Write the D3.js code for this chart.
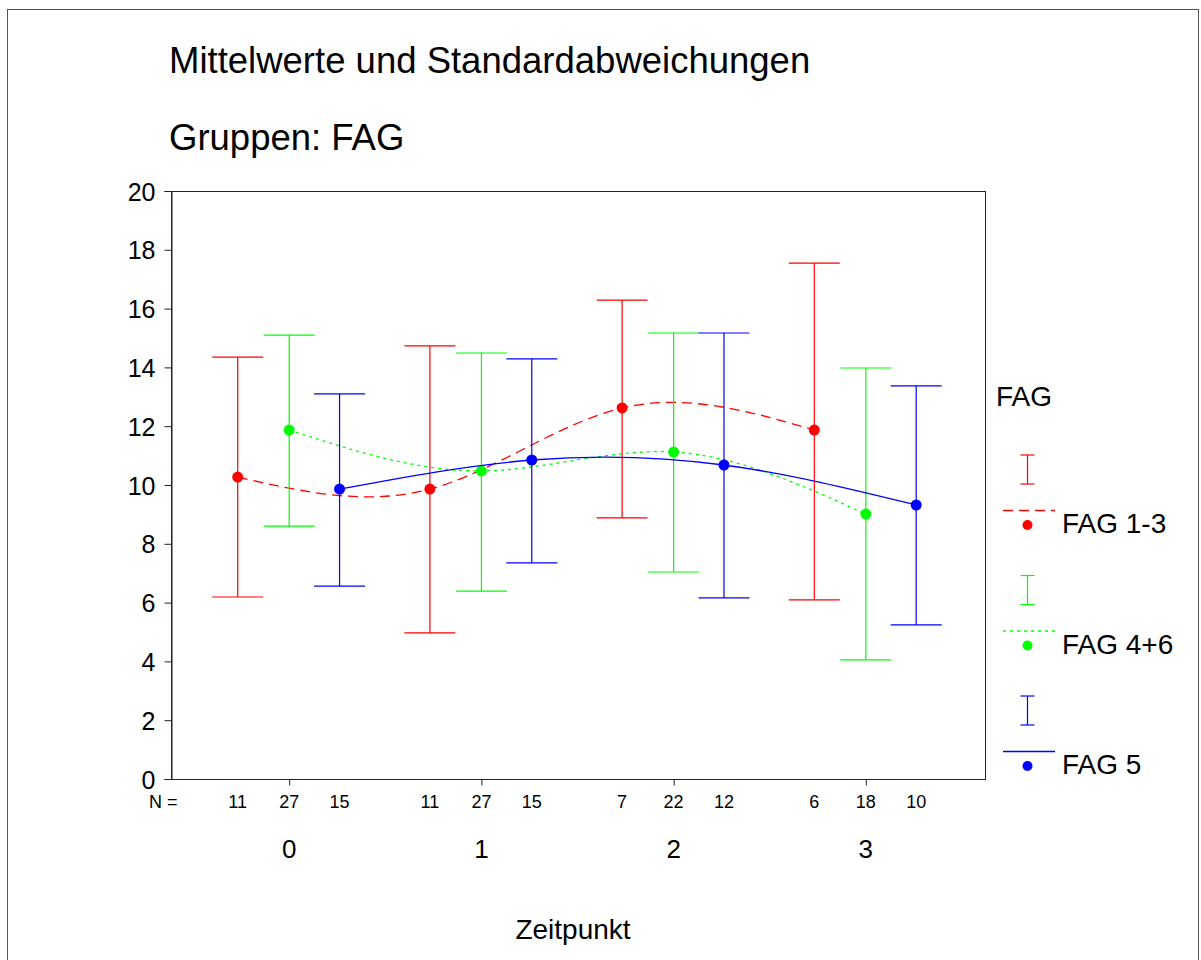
<!DOCTYPE html>
<html>
<head>
<meta charset="utf-8">
<script src="https://cdn.jsdelivr.net/npm/d3@7"></script>
<style>
  body { margin: 0; background: #fff; }
  svg text { font-family: "Liberation Sans", Arial, sans-serif; fill: #000; }
</style>
</head>
<body>
<div id="chart"></div>
<script>
// Zeitpunkte und Gruppen
const zeitpunkte = [0, 1, 2, 3];
const gruppen = ["FAG 1-3", "FAG 4+6", "FAG 5"];

// Mittelwerte je Gruppe (Zeitpunkt 0..3)
const mittelFAG13 = [10.27, 9.86, 12.62, 11.87];
const mittelFAG46 = [11.87, 10.48, 11.12, 9.01];
const mittelFAG5  = [9.86, 10.85, 10.68, 9.32];

// obere / untere Grenze (Mittelwert +/- SD)
const obenFAG13 = [14.35, 14.73, 16.29, 17.55];
const untenFAG13 = [6.19, 4.97, 8.88, 6.09];
const obenFAG46 = [15.10, 14.49, 15.17, 13.98];
const untenFAG46 = [8.60, 6.39, 7.04, 4.05];
const obenFAG5 = [13.10, 14.29, 15.17, 13.37];
const untenFAG5 = [6.56, 7.35, 6.16, 5.24];

// Fallzahlen
const nFAG13 = [11, 11, 7, 6];
const nFAG46 = [27, 27, 22, 18];
const nFAG5  = [15, 15, 12, 10];

const yTicks = [0, 2, 4, 6, 8, 10, 12, 14, 16, 18, 20];

const farben = ["#ff0000", "#00ff00", "#0000ff"];
const striche = ["10,6", "3,4", null];
const versatz = [-0.268, 0, 0.262];

const serien = [
  {name: gruppen[0], mittel: mittelFAG13, oben: obenFAG13, unten: untenFAG13, n: nFAG13},
  {name: gruppen[1], mittel: mittelFAG46, oben: obenFAG46, unten: untenFAG46, n: nFAG46},
  {name: gruppen[2], mittel: mittelFAG5,  oben: obenFAG5,  unten: untenFAG5,  n: nFAG5}
];

function drawChart() {
  var W = 1201, H = 960;
  var left = 171, right = 985, top = 191, bottom = 779;

  var svg = d3.select("#chart").append("svg")
    .attr("width", W).attr("height", H);

  // Rahmen
  svg.append("rect")
    .attr("x", 7.5).attr("y", 9.5)
    .attr("width", 1191).attr("height", 1000)
    .attr("fill", "none").attr("stroke", "#555").attr("stroke-width", 1);

  // Titel
  svg.append("text").attr("x", 169).attr("y", 73)
    .style("font-size", "36.5px").text("Mittelwerte und Standardabweichungen");
  svg.append("text").attr("x", 169).attr("y", 150)
    .style("font-size", "36.5px").text("Gruppen: FAG");

  var x = d3.scaleLinear().domain([-0.615, 3.62]).range([left, right]);
  var y = d3.scaleLinear().domain([0, 20]).range([bottom, top]);

  // Plotrahmen
  svg.append("rect")
    .attr("x", left + 0.5).attr("y", top + 0.5)
    .attr("width", right - left).attr("height", bottom - top)
    .attr("fill", "none").attr("stroke", "#222").attr("stroke-width", 1);

  // y-Achse
  var yAxis = d3.axisLeft(y).tickValues(yTicks).tickSize(7).tickPadding(9);
  var gY = svg.append("g").attr("transform", "translate(" + (left + 0.5) + ",0)").call(yAxis);
  gY.select(".domain").attr("stroke", "#222");
  gY.selectAll(".tick line").attr("stroke", "#222");
  gY.selectAll(".tick text")
    .style("font-size", "25px").attr("dy", "0.36em")
    .attr("font-family", null);

  // x-Achse: Ticks an den Zeitpunkten
  var xAxis = d3.axisBottom(x).tickValues(zeitpunkte).tickSize(6).tickFormat("");
  var gX = svg.append("g").attr("transform", "translate(0," + (bottom + 0.5) + ")").call(xAxis);
  gX.select(".domain").remove();
  gX.selectAll(".tick line").attr("stroke", "#222");

  // N = Zeile
  svg.append("text").attr("x", 149).attr("y", 808)
    .style("font-size", "18px").text("N =");
  serien.forEach(function(s, gi) {
    svg.append("g").selectAll("text")
      .data(s.n).enter().append("text")
      .attr("x", function(d, i) { return x(zeitpunkte[i] + versatz[gi]); })
      .attr("y", 808)
      .attr("text-anchor", "middle")
      .style("font-size", "18px")
      .text(function(d) { return d; });
  });

  // Zeitpunkt-Beschriftung
  svg.append("g").selectAll("text")
    .data(zeitpunkte).enter().append("text")
    .attr("x", function(d) { return x(d); })
    .attr("y", 858)
    .attr("text-anchor", "middle")
    .style("font-size", "26px")
    .text(function(d) { return d; });

  svg.append("text").attr("x", 573).attr("y", 939)
    .attr("text-anchor", "middle")
    .style("font-size", "28px").text("Zeitpunkt");

  var capHalb = 25.5;

  serien.forEach(function(s, gi) {
    var g = svg.append("g");
    var col = farben[gi];
    var pts = s.mittel.map(function(m, i) { return [x(zeitpunkte[i] + versatz[gi]), y(m)]; });

    // Fehlerbalken
    s.mittel.forEach(function(m, i) {
      var cx = x(zeitpunkte[i] + versatz[gi]);
      g.append("line")
        .attr("x1", cx).attr("x2", cx)
        .attr("y1", y(s.oben[i])).attr("y2", y(s.unten[i]))
        .attr("stroke", col).attr("stroke-width", 1.2);
      [s.oben[i], s.unten[i]].forEach(function(v) {
        g.append("line")
          .attr("x1", cx - capHalb).attr("x2", cx + capHalb)
          .attr("y1", y(v)).attr("y2", y(v))
          .attr("stroke", col).attr("stroke-width", 1.2);
      });
    });

    // Verbindungslinie (Spline)
    g.append("path")
      .attr("d", d3.line().curve(d3.curveNatural)(pts))
      .attr("fill", "none").attr("stroke", col).attr("stroke-width", 1.3)
      .attr("stroke-dasharray", striche[gi]);

    // Mittelwerte
    g.selectAll("circle").data(pts).enter().append("circle")
      .attr("cx", function(d) { return d[0]; })
      .attr("cy", function(d) { return d[1]; })
      .attr("r", 5.5).attr("fill", col);
  });

  // Legende
  svg.append("text").attr("x", 996).attr("y", 406)
    .style("font-size", "28px").text("FAG");

  var lx = 1027.5;
  serien.forEach(function(s, gi) {
    var col = farben[gi];
    var oy = 455 + gi * 120.5;
    var lg = svg.append("g");
    lg.append("line").attr("x1", lx).attr("x2", lx)
      .attr("y1", oy).attr("y2", oy + 29).attr("stroke", col).attr("stroke-width", 1.2);
    [oy, oy + 29].forEach(function(v) {
      lg.append("line").attr("x1", lx - 7).attr("x2", lx + 7)
        .attr("y1", v).attr("y2", v).attr("stroke", col).attr("stroke-width", 1.2);
    });
    lg.append("line").attr("x1", 1003).attr("x2", 1055)
      .attr("y1", oy + 55.5).attr("y2", oy + 55.5)
      .attr("stroke", col).attr("stroke-width", 1.3)
      .attr("stroke-dasharray", striche[gi]);
    lg.append("circle").attr("cx", lx).attr("cy", oy + 70).attr("r", 5).attr("fill", col);
    lg.append("text").attr("x", 1062).attr("y", oy + 78)
      .style("font-size", "28px").text(s.name);
  });
}

drawChart();
</script>
</body>
</html>
